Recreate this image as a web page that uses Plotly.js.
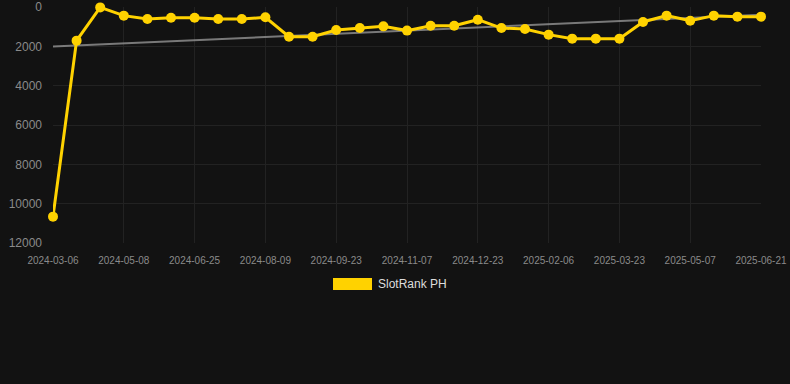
<!DOCTYPE html>
<html><head><meta charset="utf-8">
<script src="https://cdn.plot.ly/plotly-3.0.1.min.js"></script>
<style>html,body{margin:0;padding:0;background:#121212;}#chart{width:790px;height:384px;}</style>
</head><body><div id="chart"></div>
<script>
const dates = ["2024-03-06","2024-03-27","2024-04-17","2024-05-08","2024-05-24","2024-06-09","2024-06-25","2024-07-10","2024-07-25","2024-08-09","2024-08-24","2024-09-08","2024-09-23","2024-10-08","2024-10-23","2024-11-07","2024-11-22","2024-12-08","2024-12-23","2025-01-07","2025-01-22","2025-02-06","2025-02-21","2025-03-08","2025-03-23","2025-04-07","2025-04-22","2025-05-07","2025-05-22","2025-06-06","2025-06-21"];
const ranks = [10660,1710,20,440,610,545,545,610,610,525,1510,1510,1170,1070,985,1200,950,950,645,1070,1120,1405,1610,1610,1610,760,440,695,440,490,490];
const tickLabels = ["2024-03-06","2024-05-08","2024-06-25","2024-08-09","2024-09-23","2024-11-07","2024-12-23","2025-02-06","2025-03-23","2025-05-07","2025-06-21"];
const trendDates = ["2024-03-06","2025-06-21"];
const trendValues = [2010, 390];
const yTicks = [0,2000,4000,6000,8000,10000,12000];
const seriesName = "SlotRank PH";

const traces = [
  {x: trendDates, y: trendValues, type: "scatter", mode: "lines", line: {color: "rgba(140,140,140,0.85)", width: 2}, hoverinfo: "skip", showlegend: false, cliponaxis: false},
  {x: dates, y: ranks, type: "scatter", mode: "lines+markers", name: seriesName, line: {color: "#FFD200", width: 3}, marker: {color: "#FFD200", size: 10}, showlegend: false, cliponaxis: false}
];
const layout = {
  width: 790, height: 384,
  paper_bgcolor: "#121212", plot_bgcolor: "#121212",
  margin: {l: 53, r: 29, t: 7, b: 141},
  showlegend: false,
  font: {family: "Liberation Sans, Arial, sans-serif", color: "#8a8a8a"},
  xaxis: {type: "category", categoryorder: "array", categoryarray: dates, range: [0, dates.length - 1],
    tickvals: tickLabels, ticktext: tickLabels, tickfont: {size: 10, color: "#8a8a8a"}, ticklabelstandoff: 10,
    showgrid: true, gridcolor: "#222222", gridwidth: 1, zeroline: false, showline: false, ticks: "", ticklen: 0},
  yaxis: {range: [12000, 0], tickvals: yTicks, ticktext: yTicks.map(String), tickfont: {size: 12, color: "#8a8a8a"}, ticklabelstandoff: 10,
    showgrid: true, gridcolor: "#222222", gridwidth: 1, zeroline: false, showline: false, ticks: "", ticklen: 0},
  shapes: [{type: "rect", xref: "paper", yref: "paper", x0: (333-53)/708, x1: (372-53)/708, y0: (384-141-290)/236, y1: (384-141-278)/236, fillcolor: "#FFD200", line: {width: 0}}],
  annotations: [{xref: "paper", yref: "paper", x: (376-53)/708, y: (384-141-284)/236, xanchor: "left", yanchor: "middle", text: seriesName, showarrow: false, font: {size: 12, color: "#dddddd"}}]
};
Plotly.newPlot("chart", traces, layout, {displayModeBar: false, staticPlot: true});
</script></body></html>
